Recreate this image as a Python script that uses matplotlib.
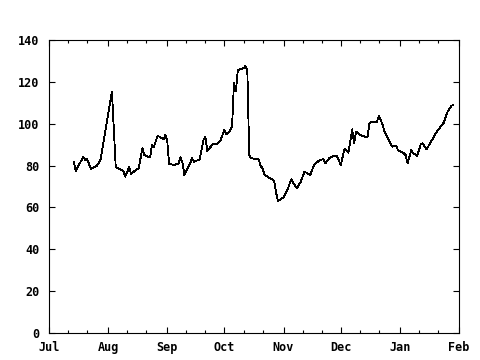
import datetime as dt
import matplotlib
matplotlib.use('Agg')
import matplotlib.pyplot as plt
import matplotlib.dates as mdates

# days counted from Jul 1
days = [13, 14, 18, 19, 20, 22, 25, 27, 33, 35, 37, 39, 40, 42, 43, 45, 47, 49, 50, 53,
        54, 55, 57, 60, 61, 62, 63, 66, 68, 69, 70, 71, 74, 75, 76, 79, 81, 82, 83, 86,
        88, 90, 92, 93, 94, 96, 97, 98, 99, 102, 103, 104, 105, 106, 110, 111, 112, 113, 116, 118,
        119, 120, 123, 125, 127, 130, 132, 134, 137, 139, 140, 142, 144, 145, 147, 149, 151, 153, 155, 157,
        159, 160, 161, 163, 167, 168, 169, 172, 173, 175, 176, 179, 180, 182, 183, 186, 187, 188, 190, 191,
        193, 195, 196, 198, 200, 203, 207, 209, 211, 212]
values = [81.8, 77.5, 84.2, 82.7, 83.0, 78.4, 79.8, 82.7, 115.3, 79.2, 78.4, 77.5, 74.7, 79.2, 76.0, 77.5, 78.7, 88.2, 85.0, 83.9,
          89.8, 89.0, 94.3, 92.5, 94.6, 91.9, 80.7, 80.3, 81.1, 83.9, 81.3, 75.5, 81.1, 83.5, 81.8, 83.0, 92.2, 93.8, 87.0, 90.3,
          90.3, 92.2, 97.0, 95.1, 95.4, 98.6, 119.5, 115.5, 125.6, 126.5, 127.6, 125.7, 85.0, 83.5, 83.0, 79.8, 78.7, 75.5, 73.9, 72.8,
          67.5, 63.2, 64.7, 68.3, 73.4, 69.1, 72.3, 77.1, 75.5, 80.3, 81.1, 82.7, 83.0, 81.1, 83.5, 84.6, 84.6, 80.3, 88.2, 86.1,
          97.3, 90.6, 96.2, 94.6, 93.4, 100.2, 101.0, 101.0, 103.8, 99.4, 96.0, 90.5, 89.0, 89.5, 87.4, 85.9, 85.0, 81.1, 87.4, 85.9,
          84.6, 90.3, 90.6, 87.8, 90.9, 95.7, 100.5, 105.7, 108.6, 108.9]

start = dt.date(2003, 7, 1)
dates = [start + dt.timedelta(days=d) for d in days]

fig = plt.figure(figsize=(4.8, 3.6), dpi=100)
ax = fig.add_axes([49/480, 27/360, 410/480, 293/360])
ax.plot(dates, values, color='black', linewidth=0.6, antialiased=False)

ax.set_xlim(dt.date(2003, 7, 1), dt.date(2004, 2, 1))
ax.set_ylim(0, 140)
ax.set_yticks(range(0, 141, 20))
ax.xaxis.set_major_locator(mdates.MonthLocator())
ax.xaxis.set_major_formatter(mdates.DateFormatter('%b'))
ax.xaxis.set_minor_locator(mdates.MonthLocator(bymonthday=[11, 21]))

for s in ax.spines.values():
    s.set_linewidth(0.8)
ax.tick_params(which='major', direction='in', length=4, width=0.8, top=True, right=True, pad=7)
ax.tick_params(which='minor', direction='in', length=2, width=0.8, top=True, right=False)
ax.tick_params(axis='x', which='major', pad=6)
for lab in ax.get_xticklabels() + ax.get_yticklabels():
    lab.set_fontfamily('DejaVu Sans Mono')
    lab.set_fontweight('bold')
    lab.set_fontsize(8.5)

fig.savefig('out.png', dpi=100)
